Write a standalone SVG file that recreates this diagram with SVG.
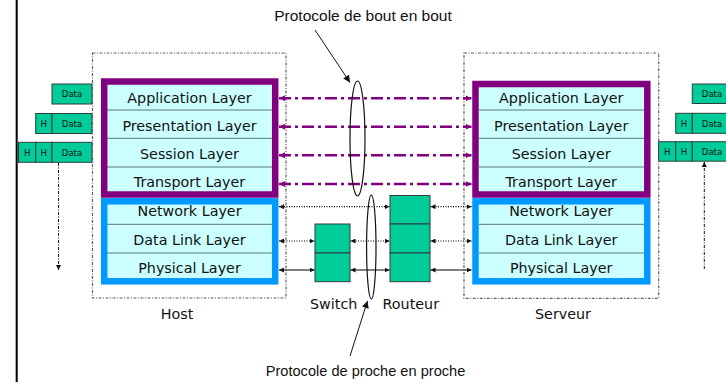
<svg xmlns="http://www.w3.org/2000/svg" width="726" height="382" viewBox="0 0 726 382">
  <style>
    .frame { fill: none; stroke: #5e5e5e; stroke-width: 1.2; stroke-dasharray: 3 1.5 1 1.5; }
    .cells { fill: #ccffff; }
    .sep { stroke: #5a7878; stroke-width: 1; }
    .purple { fill: none; stroke: #800080; stroke-width: 6.5; }
    .blue { fill: none; stroke: #0099ff; stroke-width: 6.5; }
    .dev { fill: #00cc99; stroke: #2f3f3a; stroke-width: 1; }
    .lbl { font-family: "DejaVu Sans", Verdana, sans-serif; font-size: 14.3px; fill: #111; text-anchor: middle; }
    .tag { font-family: "DejaVu Sans", Verdana, sans-serif; font-size: 8.5px; fill: #111; text-anchor: middle; }
    .title { font-family: "Liberation Sans", Arial, sans-serif; font-size: 15.5px; fill: #111; text-anchor: middle; }
    .e2e { fill: none; stroke: #800080; stroke-width: 2.5; stroke-dasharray: 12 4 3 4; marker-start: url(#ap); marker-end: url(#ap); }
    .hop { fill: none; stroke: #000; stroke-width: 1.2; stroke-dasharray: 1 1.5; marker-start: url(#ab); marker-end: url(#ab); }
    .wire { fill: none; stroke: #000; stroke-width: 1.2; marker-start: url(#ab); marker-end: url(#ab); }
    .flow { fill: none; stroke: #111; stroke-width: 1; stroke-dasharray: 3 1.5 1 1.5; marker-end: url(#ab); }
    .ptr { fill: none; stroke: #111; stroke-width: 1; marker-end: url(#ak); }
    .ring { fill: none; stroke: #111; stroke-width: 1.2; }
  </style>
  <defs>
    <marker id="ap" viewBox="0 0 10 10" refX="10" refY="5" markerUnits="userSpaceOnUse" markerWidth="6" markerHeight="6" orient="auto-start-reverse">
      <path d="M0,0 L10,5 L0,10 z" fill="#800080"/>
    </marker>
    <marker id="ab" viewBox="0 0 10 10" refX="10" refY="5" markerUnits="userSpaceOnUse" markerWidth="5" markerHeight="5" orient="auto-start-reverse">
      <path d="M0,0 L10,5 L0,10 z" fill="#111"/>
    </marker>
    <marker id="ak" viewBox="0 0 10 10" refX="10" refY="5" markerUnits="userSpaceOnUse" markerWidth="8" markerHeight="7" orient="auto">
      <path d="M0,0 L10,5 L0,10 z" fill="#111"/>
    </marker>
  </defs>

  <rect width="726" height="382" fill="#ffffff"/>

  <!-- left margin rule -->
  <line x1="16.7" y1="0" x2="16.7" y2="382" stroke="#9a9a9a" stroke-width="2.6"/>
  <line x1="16.7" y1="0" x2="16.7" y2="382" stroke="#000" stroke-width="1.6"/>

  <!-- headings -->
  <text class="title" x="363" y="21">Protocole de bout en bout</text>
  <text class="title" x="365.5" y="376" style="font-size:14.6px">Protocole de proche en proche</text>

  <!-- encapsulation on the sending side -->
  <g id="host-data">
    <rect class="dev" x="52" y="84" width="40" height="20"/>
    <text class="tag" x="72" y="97.3">Data</text>
    <rect class="dev" x="35.7" y="113.5" width="16.3" height="20"/>
    <rect class="dev" x="52" y="113.5" width="40" height="20"/>
    <text class="tag" x="43.8" y="126.8">H</text>
    <text class="tag" x="72" y="126.8">Data</text>
    <rect class="dev" x="18.5" y="142.3" width="17.2" height="20"/>
    <rect class="dev" x="35.7" y="142.3" width="16.3" height="20"/>
    <rect class="dev" x="52" y="142.3" width="40" height="20"/>
    <text class="tag" x="27.1" y="155.6">H</text>
    <text class="tag" x="43.8" y="155.6">H</text>
    <text class="tag" x="72" y="155.6">Data</text>
  </g>

  <!-- decapsulation on the receiving side -->
  <g id="server-data">
    <rect class="dev" x="692.3" y="84" width="40" height="19.5"/>
    <text class="tag" x="712" y="97">Data</text>
    <rect class="dev" x="675.7" y="113.3" width="16.6" height="20"/>
    <rect class="dev" x="692.3" y="113.3" width="40" height="20"/>
    <text class="tag" x="684" y="126.6">H</text>
    <text class="tag" x="712" y="126.6">Data</text>
    <rect class="dev" x="658.5" y="141.7" width="17.2" height="19.5"/>
    <rect class="dev" x="675.7" y="141.7" width="16.6" height="19.5"/>
    <rect class="dev" x="692.3" y="141.7" width="40" height="19.5"/>
    <text class="tag" x="667.1" y="154.8">H</text>
    <text class="tag" x="684" y="154.8">H</text>
    <text class="tag" x="712" y="154.8">Data</text>
  </g>

  <!-- Host -->
  <g id="host">
    <rect class="frame" x="92.5" y="53" width="193.5" height="245"/>
    <rect class="cells" x="107" y="84" width="165.5" height="108"/>
    <rect class="cells" x="107" y="204" width="165.5" height="74.5"/>
    <line class="sep" x1="107" y1="110" x2="272.5" y2="110"/>
    <line class="sep" x1="107" y1="138.3" x2="272.5" y2="138.3"/>
    <line class="sep" x1="107" y1="167" x2="272.5" y2="167"/>
    <line class="sep" x1="107" y1="224.3" x2="272.5" y2="224.3"/>
    <line class="sep" x1="107" y1="253" x2="272.5" y2="253"/>
    <rect class="purple" x="104.2" y="81.5" width="171" height="113"/>
    <rect class="blue" x="104.2" y="201.3" width="171" height="80"/>
    <text class="lbl" x="189.5" y="103.3">Application Layer</text>
    <text class="lbl" x="189.5" y="130.7">Presentation Layer</text>
    <text class="lbl" x="189.5" y="159">Session Layer</text>
    <text class="lbl" x="189.5" y="187">Transport Layer</text>
    <text class="lbl" x="189.5" y="216">Network Layer</text>
    <text class="lbl" x="189.5" y="245">Data Link Layer</text>
    <text class="lbl" x="189.5" y="272.7">Physical Layer</text>
    <text class="lbl" x="177" y="318.5">Host</text>
  </g>

  <!-- Serveur -->
  <g id="server">
    <rect class="frame" x="464" y="53" width="194.7" height="245.3"/>
    <rect class="cells" x="479" y="86.7" width="165.3" height="105.3"/>
    <rect class="cells" x="479" y="204" width="165.3" height="74.5"/>
    <line class="sep" x1="479" y1="110" x2="644.3" y2="110"/>
    <line class="sep" x1="479" y1="138.3" x2="644.3" y2="138.3"/>
    <line class="sep" x1="479" y1="167" x2="644.3" y2="167"/>
    <line class="sep" x1="479" y1="224.3" x2="644.3" y2="224.3"/>
    <line class="sep" x1="479" y1="253" x2="644.3" y2="253"/>
    <rect class="purple" x="475.5" y="84" width="171.8" height="110.5"/>
    <rect class="blue" x="475.5" y="201.3" width="171.8" height="80"/>
    <text class="lbl" x="561.2" y="102.8">Application Layer</text>
    <text class="lbl" x="561.2" y="130.7">Presentation Layer</text>
    <text class="lbl" x="561.2" y="159">Session Layer</text>
    <text class="lbl" x="561.2" y="187">Transport Layer</text>
    <text class="lbl" x="561.2" y="216">Network Layer</text>
    <text class="lbl" x="561.2" y="245">Data Link Layer</text>
    <text class="lbl" x="561.2" y="272.7">Physical Layer</text>
    <text class="lbl" x="563" y="319">Serveur</text>
  </g>

  <!-- Switch (layers 1-2) -->
  <g id="switch">
    <rect class="dev" x="315" y="224" width="35" height="29"/>
    <rect class="dev" x="315" y="253" width="35" height="28.7"/>
    <text class="lbl" x="333.7" y="308.5">Switch</text>
  </g>

  <!-- Routeur (layers 1-3) -->
  <g id="router">
    <rect class="dev" x="390" y="195.5" width="40" height="28.5"/>
    <rect class="dev" x="390" y="224" width="40" height="29"/>
    <rect class="dev" x="390" y="253" width="40" height="28.7"/>
    <text class="lbl" x="410.8" y="308.5">Routeur</text>
  </g>

  <g id="connectors">
    <!-- end-to-end peer dialogues, layers 4-7 -->
    <line class="e2e" x1="279" y1="98.3" x2="471.5" y2="98.3"/>
    <line class="e2e" x1="279" y1="126.7" x2="471.5" y2="126.7"/>
    <line class="e2e" x1="279" y1="155.3" x2="471.5" y2="155.3"/>
    <line class="e2e" x1="279" y1="184" x2="471.5" y2="184"/>

    <!-- network layer hops -->
    <line class="hop" x1="279" y1="206.7" x2="389.5" y2="206.7"/>
    <line class="hop" x1="430.5" y1="206.7" x2="471.5" y2="206.7"/>
    <!-- data link hops -->
    <line class="hop" x1="279" y1="241" x2="314.5" y2="241"/>
    <line class="hop" x1="350.5" y1="241" x2="389.5" y2="241"/>
    <line class="hop" x1="430.5" y1="241" x2="471.5" y2="241"/>
    <!-- physical links -->
    <line class="wire" x1="279" y1="270" x2="314.5" y2="270"/>
    <line class="wire" x1="350.5" y1="270" x2="389.5" y2="270"/>
    <line class="wire" x1="430.5" y1="270" x2="471.5" y2="270"/>

    <!-- data flow down and up the stacks -->
    <line class="flow" x1="58.5" y1="163" x2="58.5" y2="270"/>
    <line class="flow" x1="704.3" y1="269" x2="704.3" y2="162"/>

    <!-- protocol groupings -->
    <ellipse class="ring" cx="357.5" cy="138.5" rx="7.5" ry="57.5"/>
    <ellipse class="ring" cx="371.3" cy="247" rx="4.7" ry="52"/>
    <line class="ptr" x1="315" y1="30" x2="350" y2="82.5"/>
    <line class="ptr" x1="350" y1="356" x2="367.5" y2="301"/>
  </g>
</svg>
